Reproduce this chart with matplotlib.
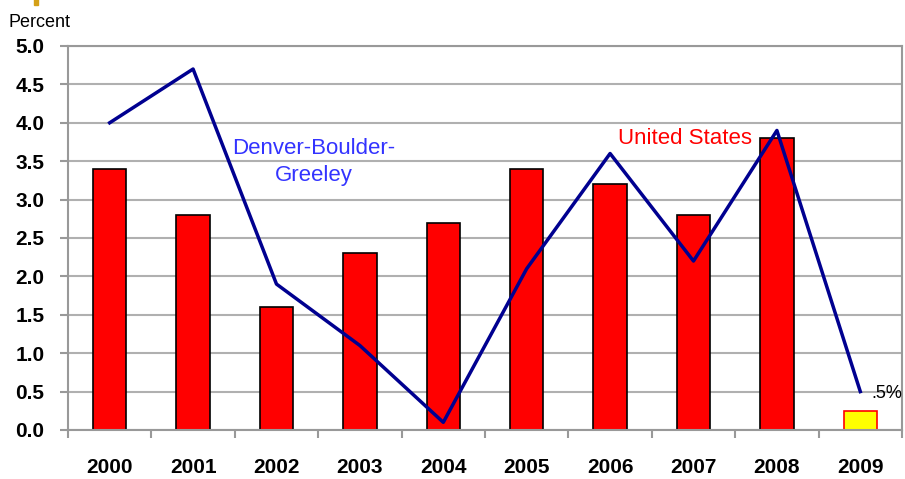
import matplotlib
matplotlib.use('Agg')
import matplotlib.pyplot as plt
import numpy as np

years = ['2000', '2001', '2002', '2003', '2004', '2005', '2006', '2007', '2008', '2009']
us_growth = [3.4, 2.8, 1.6, 2.3, 2.7, 3.4, 3.2, 2.8, 3.8, 0.25]
denver_growth = [4.0, 4.7, 1.9, 1.1, 0.1, 2.1, 3.6, 2.2, 3.9, 0.5]
y_ticks = [0.0, 0.5, 1.0, 1.5, 2.0, 2.5, 3.0, 3.5, 4.0, 4.5, 5.0]

plt.rcParams['font.family'] = ['Liberation Sans', 'DejaVu Sans']

fig = plt.figure(figsize=(9.05, 4.79), dpi=100)
ax = fig.add_axes([0.0751, 0.1023, 0.9216, 0.8017])

x = np.arange(len(years))
face = ['red'] * (len(years) - 1) + ['#FFFF00']
edge = ['black'] * (len(years) - 1) + ['red']
ax.bar(x, us_growth, width=0.4, color=face, edgecolor=edge, linewidth=1.2, zorder=2)
ax.plot(x, denver_growth, color='#000090', linewidth=2.5, zorder=3)

ax.set_xlim(-0.5, len(years) - 0.5)
ax.set_ylim(0, 5)
ax.set_yticks(y_ticks)
ax.set_yticklabels([f'{v:.1f}' for v in y_ticks], fontsize=15, fontweight='bold')
ax.set_xticks(x)
ax.set_xticklabels(years, fontsize=15, fontweight='bold')
ax.set_xticks(np.arange(len(years) + 1) - 0.5, minor=True)
ax.tick_params(axis='x', which='major', length=0, pad=20)
ax.tick_params(axis='x', which='minor', length=6, color='#999999', width=1.5)
ax.tick_params(axis='y', length=6, color='#999999', width=1.5, pad=11)
ax.grid(axis='y', color='#B0B0B0', linewidth=1.5, zorder=0)

for s in ['left', 'right', 'top', 'bottom']:
    ax.spines[s].set_color('#999999')
    ax.spines[s].set_linewidth(1.5)

ax.text(2.45, 3.49, 'Denver-Boulder-\nGreeley', color='#3333FF', fontsize=16,
        ha='center', va='center', linespacing=1.4)
ax.text(6.9, 3.79, 'United States', color='red', fontsize=16, ha='center', va='center')
ax.text(9.13, 0.48, '.5%', color='black', fontsize=13, ha='left', va='center')

fig.text(0.009, 0.953, 'Percent', fontsize=13, ha='left', va='center')
fig.add_artist(plt.Rectangle((0.038, 0.99), 0.0045, 0.012, color='#D4A017', transform=fig.transFigure))

fig.savefig('out.png', dpi=100)
